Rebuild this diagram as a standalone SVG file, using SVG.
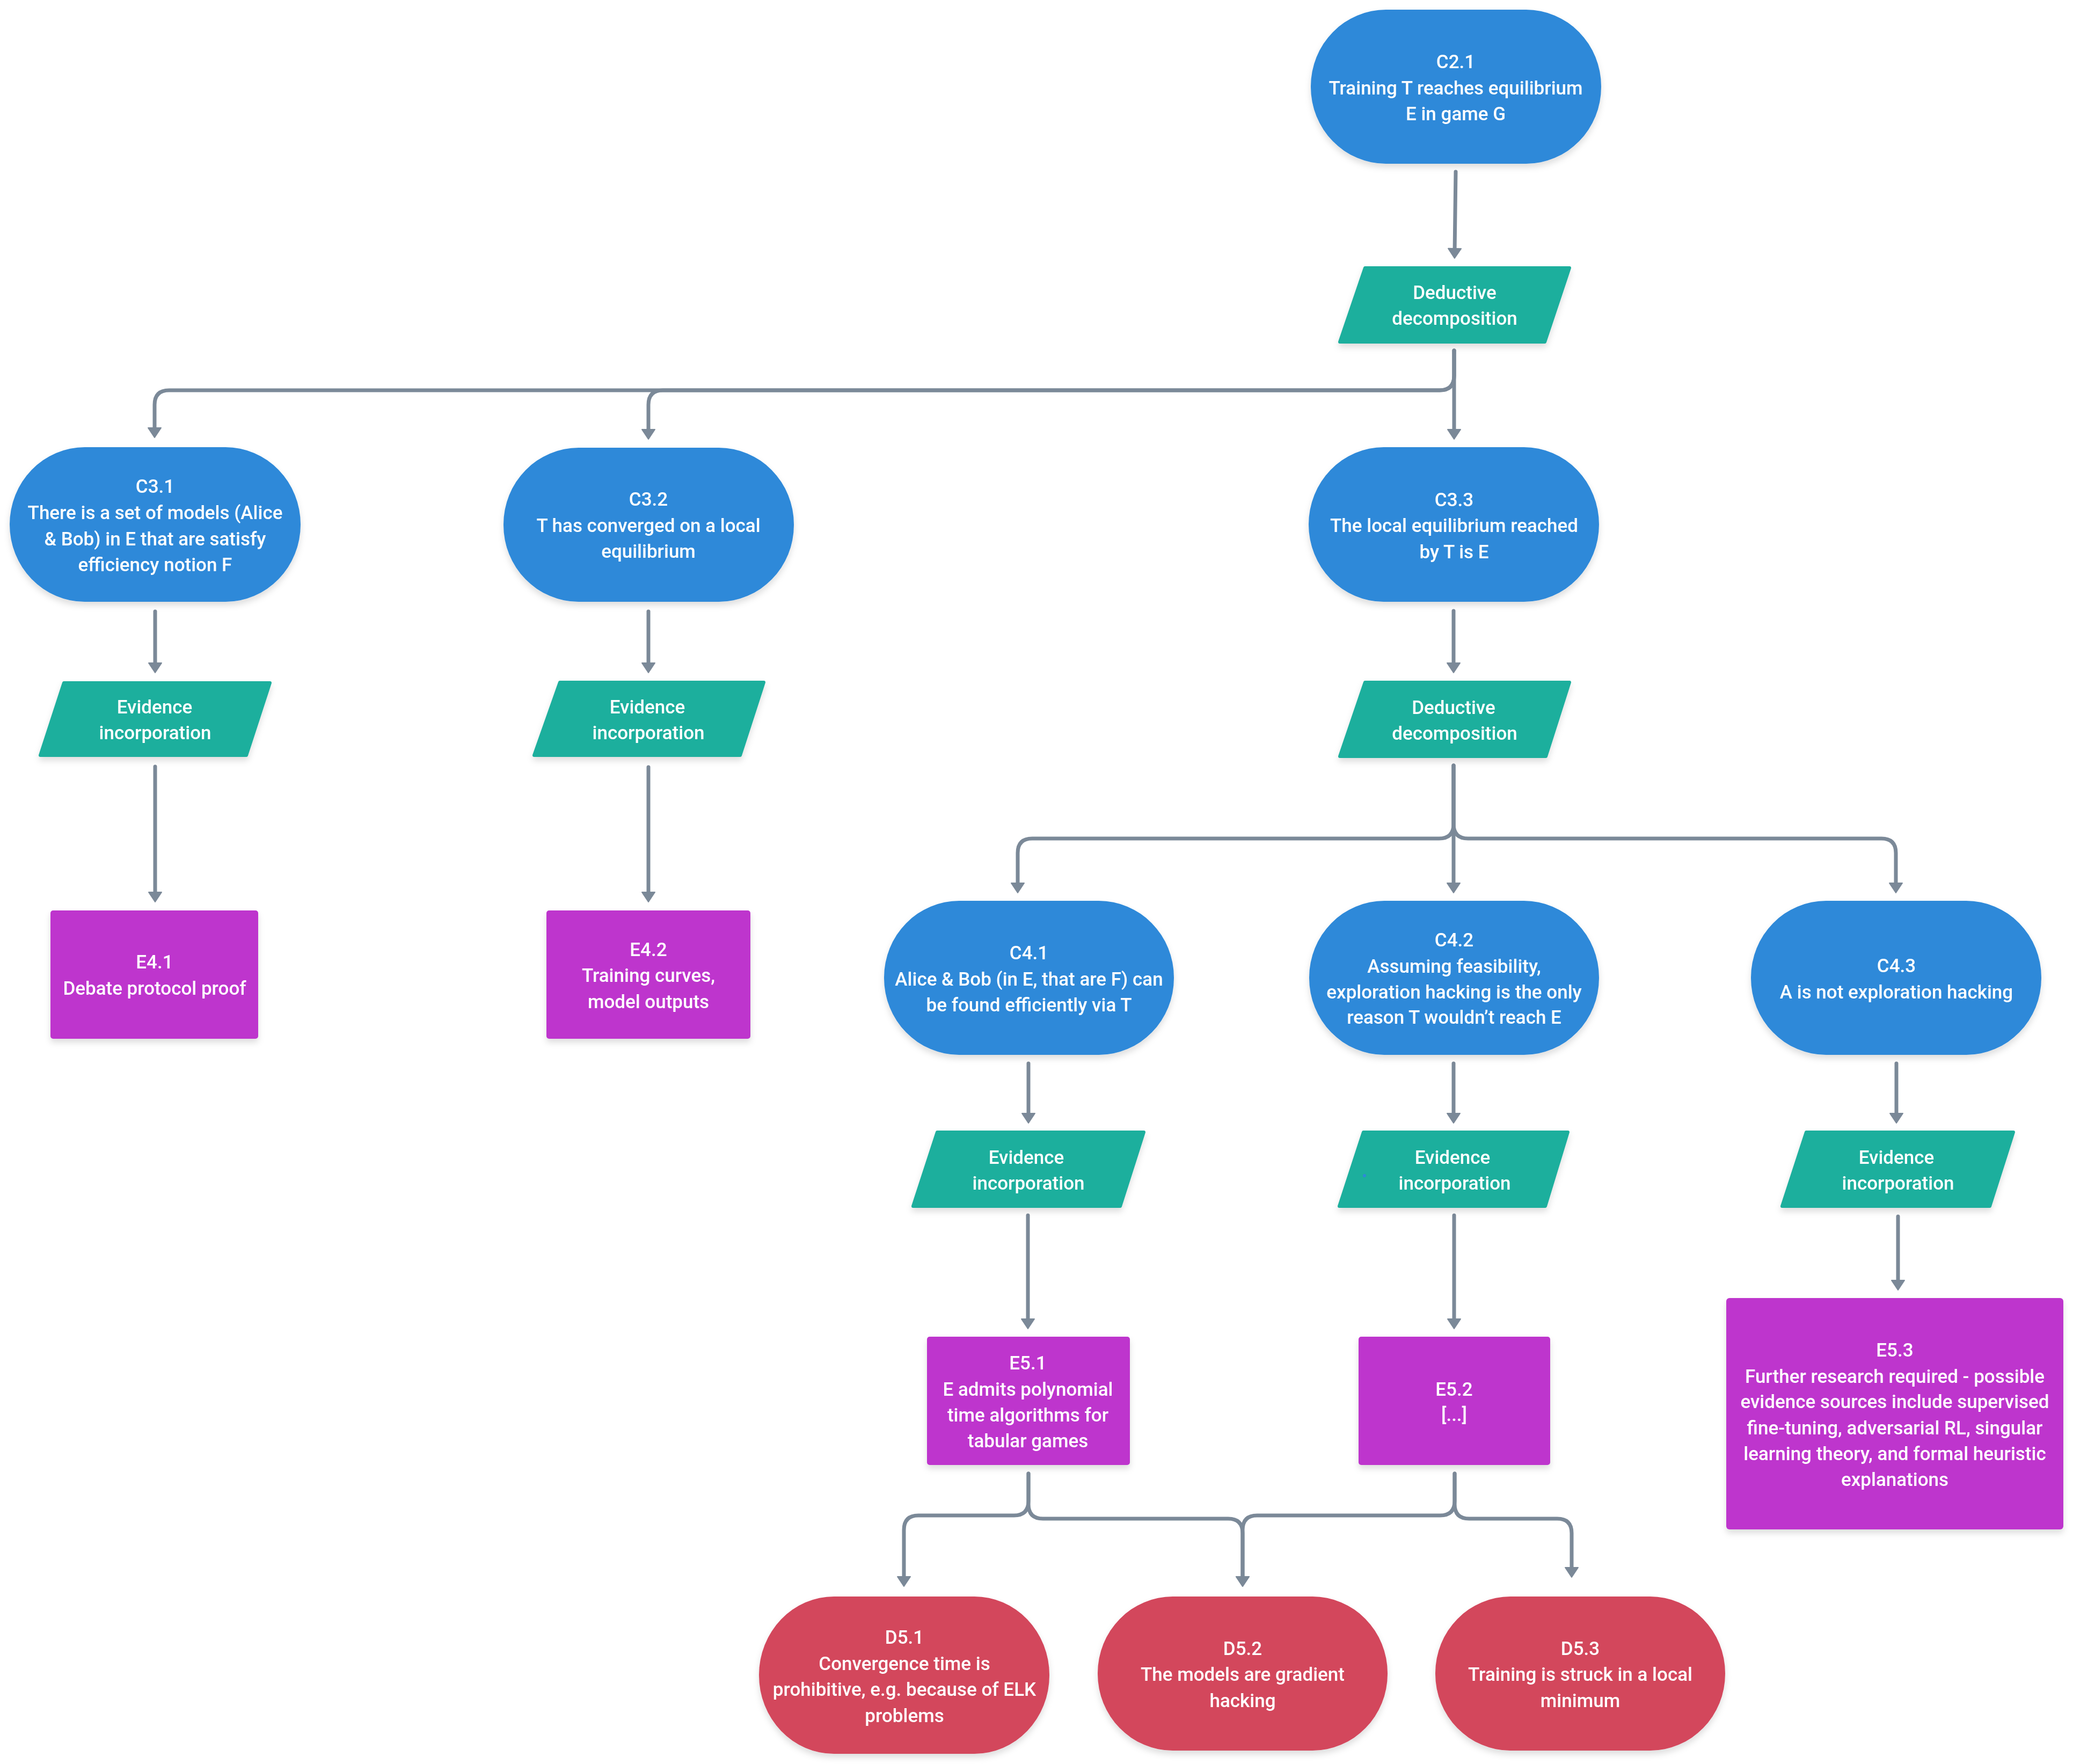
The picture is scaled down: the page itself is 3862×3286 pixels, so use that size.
<svg xmlns="http://www.w3.org/2000/svg" width="3862" height="3286" viewBox="0 0 3862 3286">
<defs>
<style>
.t{font-family:Roboto,"Liberation Sans",sans-serif;font-size:35px;font-weight:500;fill:#ffffff;text-anchor:middle}
.claim{fill:#2E89D9}
.step{fill:#1CAF9D;stroke:#1CAF9D;stroke-width:6;stroke-linejoin:round}
.ev{fill:#BE34CD}
.def{fill:#D3465C}
.c{fill:none;stroke:#7B8998;stroke-width:7;stroke-linecap:round;stroke-linejoin:round;marker-end:url(#ah)}
</style>
<marker id="ah" markerUnits="userSpaceOnUse" markerWidth="60" markerHeight="60" refX="0" refY="0" orient="auto" overflow="visible">
<path d="M-8,-12 L10,0 L-8,12 Z" fill="#7B8998" stroke="#7B8998" stroke-width="2" stroke-linejoin="round"/>
</marker>
<filter id="sh" x="-10%" y="-10%" width="120%" height="130%">
<feDropShadow dx="0" dy="7" stdDeviation="6" flood-color="#000000" flood-opacity="0.13"/>
</filter>
</defs>
<rect width="3862" height="3286" fill="#ffffff"/>

<g id="connectors">
<path class="c" d="M2712,320 L2710,471"/>
<path class="c" d="M2709,653 L2709,808"/>
<path class="c" d="M2709,653 L2709,700 Q2709,727 2682,727 L1235,727 Q1208,727 1208,754 L1208,808"/>
<path class="c" d="M2709,653 L2709,700 Q2709,727 2682,727 L315,727 Q288,727 288,754 L288,805"/>
<path class="c" d="M289,1139 L289,1243"/>
<path class="c" d="M289,1428 L289,1670"/>
<path class="c" d="M1208,1139 L1208,1243"/>
<path class="c" d="M1208,1429 L1208,1670"/>
<path class="c" d="M2708,1138 L2708,1243"/>
<path class="c" d="M2708,1426 L2708,1653"/>
<path class="c" d="M2708,1426 L2708,1535 Q2708,1562 2681,1562 L1923,1562 Q1896,1562 1896,1589 L1896,1653"/>
<path class="c" d="M2708,1426 L2708,1535 Q2708,1562 2735,1562 L3505,1562 Q3532,1562 3532,1589 L3532,1653"/>
<path class="c" d="M1916,1981 L1916,2082"/>
<path class="c" d="M2708,1981 L2708,2082"/>
<path class="c" d="M3533,1981 L3533,2082"/>
<path class="c" d="M1915,2264 L1915,2465"/>
<path class="c" d="M2709,2264 L2709,2465"/>
<path class="c" d="M3536,2266 L3536,2393"/>
<path class="c" d="M1916,2745 L1916,2796 Q1916,2823 1889,2823 L1711,2823 Q1684,2823 1684,2850 L1684,2945"/>
<path class="c" d="M1916,2745 L1916,2802 Q1916,2829 1943,2829 L2288,2829 Q2315,2829 2315,2856 L2315,2945"/>
<path class="c" d="M2710,2745 L2710,2796 Q2710,2823 2683,2823 L2342,2823 Q2315,2823 2315,2850 L2315,2945"/>
<path class="c" d="M2710,2745 L2710,2802 Q2710,2829 2737,2829 L2901,2829 Q2928,2829 2928,2856 L2928,2928"/>
</g>

<g id="C2.1" filter="url(#sh)">
<rect class="claim" x="2442" y="18" width="541" height="287" rx="140" ry="143"/>
<text class="t" x="2712"><tspan x="2712" y="127">C2.1</tspan><tspan x="2712" y="176">Training T reaches equilibrium</tspan><tspan x="2712" y="224">E in game G</tspan></text>
</g>

<g id="S1" filter="url(#sh)">
<polygon class="step" points="2543,499 2924,499 2878,637 2496,637"/>
<text class="t"><tspan x="2710" y="557">Deductive</tspan><tspan x="2710" y="605">decomposition</tspan></text>
</g>

<g id="C3.1" filter="url(#sh)">
<rect class="claim" x="18" y="833" width="542" height="288" rx="140" ry="144"/>
<text class="t"><tspan x="289" y="918">C3.1</tspan><tspan x="289" y="967">There is a set of models (Alice</tspan><tspan x="289" y="1016">&amp; Bob) in E that are satisfy</tspan><tspan x="289" y="1064">efficiency notion F</tspan></text>
</g>

<g id="S2" filter="url(#sh)">
<polygon class="step" points="119,1272 503,1272 459,1407 75,1407"/>
<text class="t"><tspan x="288" y="1329">Evidence</tspan><tspan x="289" y="1377">incorporation</tspan></text>
</g>

<g id="E4.1" filter="url(#sh)">
<rect class="ev" x="94" y="1696" width="387" height="239" rx="5"/>
<text class="t"><tspan x="288" y="1804">E4.1</tspan><tspan x="288" y="1853">Debate protocol proof</tspan></text>
</g>

<g id="C3.2" filter="url(#sh)">
<rect class="claim" x="938" y="834" width="541" height="287" rx="140" ry="143"/>
<text class="t"><tspan x="1208" y="942">C3.2</tspan><tspan x="1208" y="991">T has converged on a local</tspan><tspan x="1208" y="1039">equilibrium</tspan></text>
</g>

<g id="S3" filter="url(#sh)">
<polygon class="step" points="1043,1271 1423,1271 1379,1407 995,1407"/>
<text class="t"><tspan x="1206" y="1329">Evidence</tspan><tspan x="1208" y="1377">incorporation</tspan></text>
</g>

<g id="E4.2" filter="url(#sh)">
<rect class="ev" x="1018" y="1696" width="380" height="239" rx="5"/>
<text class="t"><tspan x="1208" y="1781">E4.2</tspan><tspan x="1208" y="1829">Training curves,</tspan><tspan x="1208" y="1878">model outputs</tspan></text>
</g>

<g id="C3.3" filter="url(#sh)">
<rect class="claim" x="2438" y="833" width="541" height="288" rx="140" ry="144"/>
<text class="t"><tspan x="2709" y="943">C3.3</tspan><tspan x="2709" y="991">The local equilibrium reached</tspan><tspan x="2709" y="1040">by T is E</tspan></text>
</g>

<g id="S4" filter="url(#sh)">
<polygon class="step" points="2543,1271 2924,1271 2880,1409 2496,1409"/>
<text class="t"><tspan x="2708" y="1330">Deductive</tspan><tspan x="2710" y="1378">decomposition</tspan></text>
</g>

<g id="C4.1" filter="url(#sh)">
<rect class="claim" x="1647" y="1678" width="540" height="287" rx="140" ry="143"/>
<text class="t"><tspan x="1917" y="1787">C4.1</tspan><tspan x="1917" y="1836">Alice &amp; Bob (in E, that are F) can</tspan><tspan x="1917" y="1884">be found efficiently via T</tspan></text>
</g>

<g id="C4.2" filter="url(#sh)">
<rect class="claim" x="2439" y="1678" width="540" height="287" rx="140" ry="143"/>
<text class="t"><tspan x="2709" y="1763">C4.2</tspan><tspan x="2709" y="1812">Assuming feasibility,</tspan><tspan x="2709" y="1860">exploration hacking is the only</tspan><tspan x="2709" y="1907">reason T wouldn’t reach E</tspan></text>
</g>

<g id="C4.3" filter="url(#sh)">
<rect class="claim" x="3262" y="1678" width="541" height="287" rx="140" ry="143"/>
<text class="t"><tspan x="3533" y="1811">C4.3</tspan><tspan x="3533" y="1860">A is not exploration hacking</tspan></text>
</g>

<g id="S5" filter="url(#sh)">
<polygon class="step" points="1746,2109 2131,2109 2087,2247 1701,2247"/>
<text class="t"><tspan x="1912" y="2168">Evidence</tspan><tspan x="1916" y="2216">incorporation</tspan></text>
</g>

<g id="S6" filter="url(#sh)">
<polygon class="step" points="2540,2109 2921,2109 2879,2247 2495,2247"/>
<text class="t"><tspan x="2706" y="2168">Evidence</tspan><tspan x="2710" y="2216">incorporation</tspan></text>
<circle cx="2542" cy="2190" r="3" fill="#2E89D9"/>
</g>

<g id="S7" filter="url(#sh)">
<polygon class="step" points="3365,2109 3751,2109 3707,2247 3320,2247"/>
<text class="t"><tspan x="3533" y="2168">Evidence</tspan><tspan x="3536" y="2216">incorporation</tspan></text>
</g>

<g id="E5.1" filter="url(#sh)">
<rect class="ev" x="1727" y="2490" width="378" height="239" rx="5"/>
<text class="t"><tspan x="1915" y="2551">E5.1</tspan><tspan x="1915" y="2600">E admits polynomial</tspan><tspan x="1915" y="2648">time algorithms for</tspan><tspan x="1915" y="2696">tabular games</tspan></text>
</g>

<g id="E5.2" filter="url(#sh)">
<rect class="ev" x="2531" y="2490" width="357" height="239" rx="5"/>
<text class="t"><tspan x="2709" y="2600">E5.2</tspan><tspan x="2709" y="2647">[...]</tspan></text>
</g>

<g id="E5.3" filter="url(#sh)">
<rect class="ev" x="3216" y="2418" width="628" height="431" rx="6"/>
<text class="t"><tspan x="3530" y="2527">E5.3</tspan><tspan x="3530" y="2576">Further research required - possible</tspan><tspan x="3530" y="2623">evidence sources include supervised</tspan><tspan x="3530" y="2672">fine-tuning, adversarial RL, singular</tspan><tspan x="3530" y="2720">learning theory, and formal heuristic</tspan><tspan x="3530" y="2768">explanations</tspan></text>
</g>

<g id="D5.1" filter="url(#sh)">
<rect class="def" x="1414" y="2974" width="541" height="293" rx="140" ry="146"/>
<text class="t"><tspan x="1685" y="3062">D5.1</tspan><tspan x="1685" y="3111">Convergence time is</tspan><tspan x="1685" y="3159">prohibitive, e.g. because of ELK</tspan><tspan x="1685" y="3208">problems</tspan></text>
</g>

<g id="D5.2" filter="url(#sh)">
<rect class="def" x="2045" y="2974" width="540" height="287" rx="140" ry="143"/>
<text class="t"><tspan x="2315" y="3083">D5.2</tspan><tspan x="2315" y="3131">The models are gradient</tspan><tspan x="2315" y="3180">hacking</tspan></text>
</g>

<g id="D5.3" filter="url(#sh)">
<rect class="def" x="2674" y="2974" width="540" height="287" rx="140" ry="143"/>
<text class="t"><tspan x="2944" y="3083">D5.3</tspan><tspan x="2944" y="3131">Training is struck in a local</tspan><tspan x="2944" y="3180">minimum</tspan></text>
</g>
</svg>
